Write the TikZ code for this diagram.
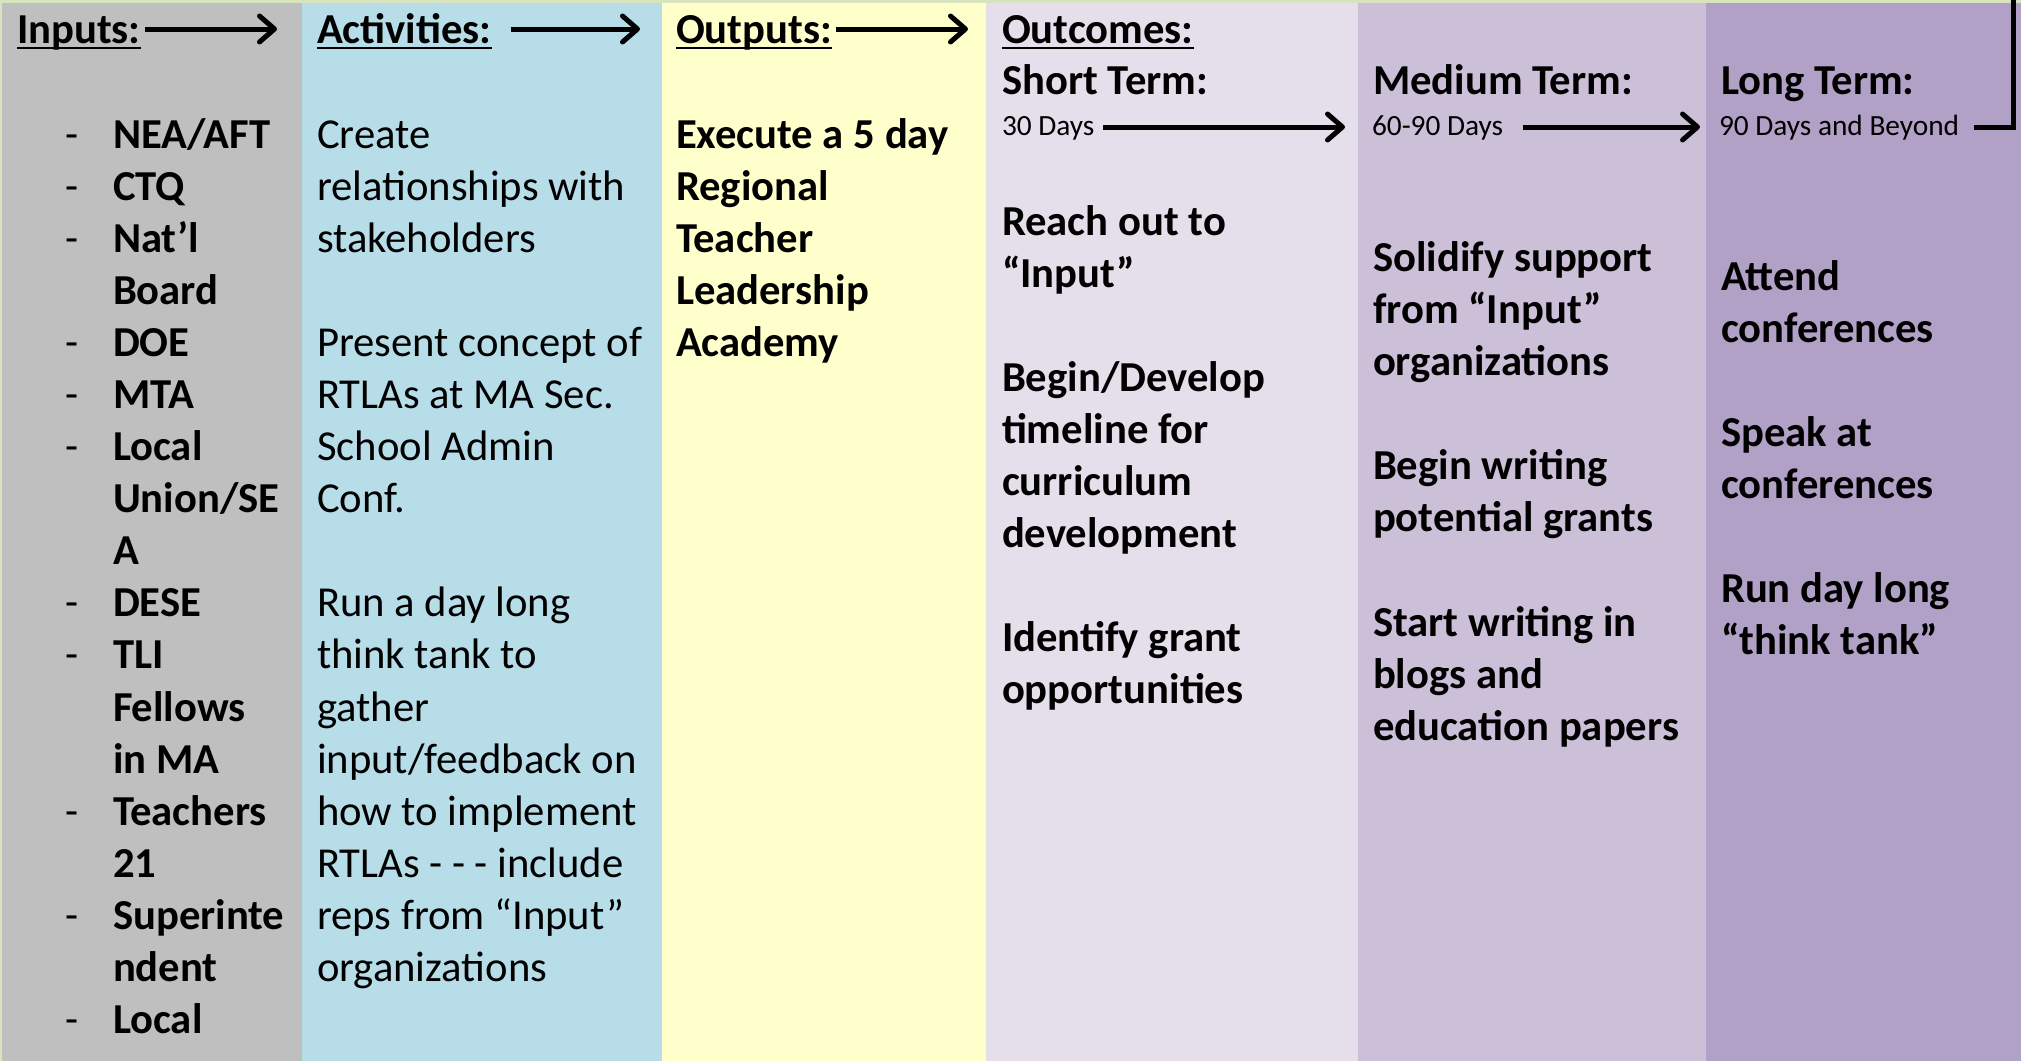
\documentclass[tikz,border=0pt]{standalone}
\usepackage{fontspec}
\setmainfont{Carlito}
\usetikzlibrary{arrows.meta}
\definecolor{bordergreen}{HTML}{D7E4BD}
\definecolor{colgray}{HTML}{BFBFBF}
\definecolor{colblue}{HTML}{B7DDE8}
\definecolor{colyellow}{HTML}{FFFFCC}
\definecolor{collav}{HTML}{E5DFEC}
\definecolor{colmed}{HTML}{CCC0D9}
\definecolor{coldark}{HTML}{B2A1C7}
\begin{document}
\begin{tikzpicture}[x=1pt,y=-1pt,
  txt/.style={anchor=base west, inner sep=0pt, outer sep=0pt, align=left, font=\fontsize{42.67}{52.09}\selectfont},
  btxt/.style={txt, font=\fontsize{42.67}{52.09}\selectfont\bfseries},
  smalltxt/.style={txt, font=\fontsize{29.33}{36}\selectfont},
  arr/.style={line width=5pt, color=black, -{Straight Barb[length=15pt,width=26pt,round]}},
  uline/.style={line width=2pt},
  link/.style={line width=5pt, color=black, line join=miter}]

\useasboundingbox (0,0) rectangle (2021,1061);
\fill[bordergreen] (0,0) rectangle (2021,1061);
\fill[colgray]   (2,3)    rectangle (302,1061);
\fill[colblue]   (302,3)  rectangle (662,1061);
\fill[colyellow] (662,3)  rectangle (986,1061);
\fill[collav]    (986,3)  rectangle (1358,1061);
\fill[colmed]    (1358,3) rectangle (1706,1061);
\fill[coldark]   (1706,3) rectangle (2021,1061);

% headers
\node[btxt] (inH)  at (17,43)   {Inputs:};
\node[btxt] (actH) at (317,43)  {Activities:};
\node[btxt] (outH) at (676,43)  {Outputs:};
\node[btxt] (ocH)  at (1002,43) {Outcomes:};
\foreach \n in {inH,actH,outH,ocH}
  \draw[uline] ([yshift=-5pt]\n.base west) -- ([yshift=-5pt]\n.base east);

\node[btxt] (stH) at (1002,94) {Short Term:};
\node[btxt] (mtH) at (1373,94) {Medium Term:};
\node[btxt] (ltH) at (1721,94) {Long Term:};
\node[smalltxt] (d30) at (1002,135) {30 Days};
\node[smalltxt] (d60) at (1372,135) {60-90 Days};
\node[smalltxt] (d90) at (1719,135) {90 Days and Beyond};

% arrows
\coordinate (inE)  at (277,29);
\coordinate (actE) at (640,29);
\coordinate (outE) at (968,29);
\coordinate (stE)  at (1345,127);
\coordinate (mtE)  at (1700,127);
\coordinate (c1)   at (2013,127);
\coordinate (c2)   at (2013,0);
\draw[arr] ([shift={(4pt,14pt)}]inH.base east) -- (inE);
\draw[arr] ([shift={(19pt,14pt)}]actH.base east) -- (actE);
\draw[arr] ([shift={(4pt,14pt)}]outH.base east) -- (outE);
\draw[arr] ([shift={(9pt,8pt)}]d30.base east) -- (stE);
\draw[arr] ([shift={(20pt,8pt)}]d60.base east) -- (mtE);
\draw[link] ([shift={(15pt,8pt)}]d90.base east) -- (c1) -- (c2);

% inputs list (anchor = baseline of last line)
\node[txt] (dashes) at (65,1033.53) {-\\-\\-\\[52.09pt]-\\-\\-\\[104.18pt]-\\-\\[104.18pt]-\\[52.09pt]-\\[52.09pt]-};
\node[btxt] (inList) at (113,1033.53) {NEA/AFT\\CTQ\\Nat’l\\Board\\DOE\\MTA\\Local\\Union/SE\\A\\DESE\\TLI\\Fellows\\in MA\\Teachers\\21\\Superinte\\ndent\\Local};

% activities
\node[txt] (actList) at (317,981.44) {Create\\relationships with\\stakeholders\\[52.09pt]Present concept of\\RTLAs at MA Sec.\\School Admin\\Conf.\\[52.09pt]Run a day long\\think tank to\\gather\\input/feedback on\\how to implement\\RTLAs - - - include\\reps from “Input”\\organizations};

% outputs
\node[btxt] (outList) at (676,356.36) {Execute a 5 day\\Regional\\Teacher\\Leadership\\Academy};

% outcomes
\node[btxt] (stList) at (1002,703.81) {Reach out to\\“Input”\\[52.09pt]Begin/Develop\\timeline for\\curriculum\\development\\[52.09pt]Identify grant\\opportunities};
\node[btxt] (mtList) at (1373,740.31) {Solidify support\\from “Input”\\organizations\\[52.09pt]Begin writing\\potential grants\\[52.09pt]Start writing in\\blogs and\\education papers};
\node[btxt] (ltList) at (1721,654.63) {Attend\\conferences\\[52.09pt]Speak at\\conferences\\[52.09pt]Run day long\\“think tank”};
\end{tikzpicture}
\end{document}
